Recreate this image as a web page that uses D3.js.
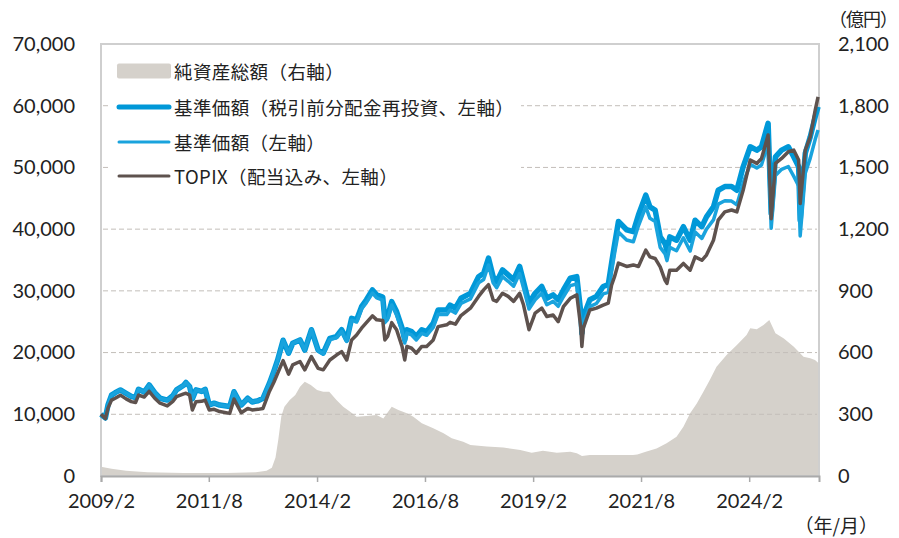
<!DOCTYPE html>
<html>
<head>
<meta charset="utf-8">
<script src="https://cdn.jsdelivr.net/npm/d3@7"></script>
<style>
body { margin: 0; background: #fff; }
svg { display: block; }
</style>
</head>
<body>
<div id="chart"></div>
<script>
// 基準価額・TOPIXの推移（左軸）
const dates = [
  "2009-02-01","2009-03-10","2009-04-01","2009-05-01","2009-06-01","2009-07-15","2009-09-01","2009-10-15","2009-11-20","2009-12-15",
  "2010-02-01","2010-03-15","2010-05-01","2010-06-15","2010-08-15","2010-10-01","2010-11-01","2011-01-01","2011-01-20","2011-02-20",
  "2011-03-15","2011-04-15","2011-06-01","2011-07-01","2011-08-05","2011-09-15","2011-11-01","2012-01-25","2012-03-01","2012-05-01",
  "2012-06-25","2012-08-01","2012-09-20","2012-11-01","2012-12-25","2013-02-01","2013-03-05","2013-04-20","2013-06-05","2013-07-10",
  "2013-09-10","2013-10-20","2013-12-15","2014-02-10","2014-03-25","2014-05-20","2014-07-15","2014-08-28","2014-10-10","2014-11-20",
  "2015-01-01","2015-02-12","2015-03-25","2015-05-15","2015-06-20","2015-08-10","2015-08-28","2015-09-20","2015-10-25","2015-12-05",
  "2016-01-20","2016-02-12","2016-03-01","2016-04-10","2016-05-20","2016-07-05","2016-08-15","2016-10-10","2016-11-20","2017-02-01",
  "2017-03-01","2017-04-15","2017-06-01","2017-08-20","2017-10-28","2017-12-10","2018-01-20","2018-02-28","2018-03-30","2018-05-18",
  "2018-07-05","2018-08-20","2018-10-10","2018-11-12","2018-12-28","2019-02-18","2019-04-15","2019-05-28","2019-07-20","2019-09-01",
  "2019-10-15","2019-12-12","2020-02-05","2020-03-10","2020-03-19","2020-04-01","2020-05-25","2020-07-20","2020-09-15","2020-10-28",
  "2020-11-25","2020-12-20","2021-01-22","2021-04-01","2021-05-28","2021-07-10","2021-09-10","2021-10-15","2021-11-28","2022-01-10",
  "2022-02-20","2022-03-08","2022-04-01","2022-05-28","2022-07-25","2022-09-20","2022-11-01","2022-12-28","2023-02-05","2023-04-05",
  "2023-05-15","2023-07-10","2023-09-05","2023-10-20","2023-12-12","2024-02-10","2024-04-05","2024-05-15","2024-07-10","2024-08-05",
  "2024-09-10","2024-11-01","2024-12-28","2025-02-12","2025-03-25","2025-04-07","2025-05-20","2025-07-01","2025-08-12","2025-09-05"
];
// 基準価額（税引前分配金再投資）
const navReinvest = [
  10000,9400,11500,13100,13500,13950,13400,12900,12700,14050,
  13600,14750,13500,12600,12300,13000,13950,14700,15150,14500,
  12500,13950,13700,14050,11500,11800,11500,11250,13650,11500,
  12600,12000,12200,12600,15000,17000,18800,22000,19900,21500,
  22050,20400,23700,20400,19900,22300,22600,23700,22050,25550,
  25300,27450,28550,30150,29350,29000,25300,25800,28250,26650,
  24000,22050,23700,23400,22600,23700,23400,24750,26900,26900,
  27700,27200,28800,29600,32300,32850,35300,32300,31500,33400,
  32600,31800,33950,31500,28000,29600,30700,28800,29350,28550,
  30150,32050,32300,26500,23150,25850,28550,29100,30700,31000,
  34500,37500,41250,39900,39600,42300,45500,43600,43100,38750,
  37650,36500,38750,38200,40400,38200,41450,40400,42000,43600,
  46300,46900,46900,46300,50100,53350,52800,53350,57150,42550,
  51700,52800,53350,51700,50100,41450,52300,54950,58200,59850
];
// 基準価額
const nav = [
  10000,9400,11500,13100,13500,13950,13400,12900,12700,14050,
  13600,14750,13500,12600,12300,13000,13950,14700,15150,14500,
  12500,13950,13700,14050,11500,11800,11500,11250,13650,11500,
  12600,12000,12200,12600,15000,17000,18800,22000,19900,21500,
  22050,20400,23700,20300,19800,22100,22400,23450,21800,25250,
  24950,27050,28100,29650,28850,28500,24850,25350,27700,26100,
  23500,21550,23150,22850,22050,23100,22800,24100,26200,26150,
  26900,26400,27950,28700,31300,31850,34200,31300,30500,32300,
  31550,30750,32800,30450,27050,28550,29600,27750,28300,27500,
  29050,30850,31100,25500,22250,24850,27450,27950,29500,29750,
  33100,36000,39550,38250,37950,40550,43600,41750,41250,37050,
  36000,34900,37050,36500,38600,36450,39550,38500,40000,41500,
  44050,44600,44550,43950,47500,50500,49900,50400,53900,40150,
  48700,49700,50150,48550,47000,38900,49050,51500,54550,56050
];
// TOPIX（配当込み）
const topix = [
  10000,9300,11000,12300,12600,13100,12500,12050,11900,13100,
  12800,13700,12600,11800,11350,12100,12850,13300,13400,13100,
  10700,12050,12100,12300,10700,10800,10450,10150,12450,10250,
  10950,10700,10800,10950,13700,15200,16650,18700,16500,18000,
  18550,17200,19350,17450,17200,18800,19600,20150,18800,22050,
  22850,23950,24850,25950,25300,25200,22050,22600,24850,23700,
  21000,18800,21000,20700,19900,21000,21000,22050,24200,24500,
  24900,24600,26000,27200,29100,30150,31000,28550,28300,29600,
  29100,28300,29600,27700,23700,26400,27200,25850,26100,25000,
  27450,28800,29350,24000,21000,24000,26900,27200,27700,28000,
  30900,32300,34500,33950,34200,33950,36600,35500,35250,33900,
  31700,31200,33350,33350,34450,33350,35500,34950,35800,38200,
  41450,42800,43100,42800,46300,51200,50650,51450,55250,41700,
  50650,51450,52550,52800,51200,44150,52800,54950,59300,61450
];

// 純資産総額（右軸、億円）
const assetDates = [
  "2009-02-01","2009-05-01","2009-09-01","2010-03-01","2011-01-01","2012-01-01","2012-09-01","2012-12-01","2013-01-15","2013-02-15",
  "2013-03-10","2013-04-05","2013-05-01","2013-06-15","2013-08-01","2013-09-10","2013-10-20","2013-12-10","2014-02-01","2014-03-25",
  "2014-05-15","2014-07-15","2014-09-10","2014-11-05","2015-01-01","2015-03-25","2015-06-20","2015-08-15","2015-10-25","2015-12-20",
  "2016-03-01","2016-04-25","2016-07-05","2016-10-10","2017-01-05","2017-03-15","2017-06-20","2017-08-20","2018-01-05","2018-05-25",
  "2018-10-15","2019-01-20","2019-04-25","2019-08-20","2019-12-12","2020-02-05","2020-03-20","2020-05-25","2020-10-15","2021-05-25",
  "2021-07-01","2021-09-10","2021-12-10","2022-03-05","2022-05-28","2022-07-25","2022-09-20","2022-11-15","2023-01-10","2023-03-05",
  "2023-05-01","2023-07-25","2023-10-20","2024-01-10","2024-02-10","2024-04-05","2024-06-01","2024-07-20","2024-09-10","2024-11-20",
  "2025-02-12","2025-05-05","2025-07-01","2025-08-10","2025-09-10"
];
const assets = [
  45,35,25,18,15,14,18,25,40,90,
  175,290,337,369,394,434,458,442,418,410,
  410,369,337,313,288,292,296,280,337,321,
  305,288,256,232,208,183,167,151,143,139,
  126,113,123,113,118,110,97,102,102,102,
  105,118,134,159,191,240,305,353,410,467,
  531,588,637,685,718,713,734,758,694,669,
  628,580,572,564,548
];

const xTickDates = ["2009-02-01","2011-08-01","2014-02-01","2016-08-01","2019-02-01","2021-08-01","2024-02-01"];
const xTickLabels = ["2009/2","2011/8","2014/2","2016/8","2019/2","2021/8","2024/2"];
const leftTicks = [0,10000,20000,30000,40000,50000,60000,70000];
const rightTicks = [0,300,600,900,1200,1500,1800,2100];
const legendLabels = [
  "純資産総額（右軸）",
  "基準価額（税引前分配金再投資、左軸）",
  "基準価額（左軸）",
  "TOPIX（配当込み、左軸）"
];

const parse = d3.timeParse("%Y-%m-%d");
const colBlue = "#0098d8";
const colBlue2 = "#19a3dd";
const colBrown = "#5e524e";
const colArea = "#d5d1cb";
const numFont = "Lato, 'Noto Sans CJK JP', sans-serif";
const jpFont = "'Noto Sans CJK JP', sans-serif";

const margin = {top: 44, right: 80, bottom: 62, left: 101};
const width = 899 - margin.left - margin.right;
const height = 538 - margin.top - margin.bottom;

const svg = d3.select("#chart")
    .append("svg")
    .attr("width", width + margin.left + margin.right)
    .attr("height", height + margin.top + margin.bottom)
    .append("g")
    .attr("transform", `translate(${margin.left},${margin.top})`);

const x = d3.scaleTime()
    .domain([parse("2009-02-01"), parse("2025-09-13")])
    .range([0, width]);
const y = d3.scaleLinear().domain([0, 70000]).range([height, 0]);
const y2 = d3.scaleLinear().domain([0, 2100]).range([height, 0]);

const lineData = dates.map((d, i) => ({
    date: parse(d), a: navReinvest[i], b: nav[i], t: topix[i]
}));
const areaData = assetDates.map((d, i) => ({date: parse(d), v: assets[i]}));

// 純資産総額
svg.append("path")
    .datum(areaData)
    .attr("fill", colArea)
    .attr("d", d3.area().x(d => x(d.date)).y0(height).y1(d => y2(d.v)));

// グリッド線
svg.selectAll(".grid")
    .data(leftTicks.filter(d => d > 0 && d < 70000))
    .enter()
    .append("line")
    .attr("x1", 2).attr("x2", width - 2)
    .attr("y1", d => y(d)).attr("y2", d => y(d))
    .attr("stroke", "#c3beb9")
    .attr("stroke-width", 1)
    .attr("stroke-dasharray", "5,3");

// 枠
svg.append("rect")
    .attr("width", width).attr("height", height)
    .attr("fill", "none")
    .attr("stroke", "#cfcfcf")
    .attr("stroke-width", 2);

const lines = [
    {key: "a", color: colBlue, w: 5.5},
    {key: "b", color: colBlue2, w: 3.5},
    {key: "t", color: colBrown, w: 3.5}
];
lines.forEach(l => {
    svg.append("path")
        .datum(lineData)
        .attr("fill", "none")
        .attr("stroke", l.color)
        .attr("stroke-width", l.w)
        .attr("stroke-linejoin", "round")
        .attr("d", d3.line().x(d => x(d.date)).y(d => y(d[l.key])));
});

// x軸
const xAxis = svg.append("g")
    .attr("transform", `translate(0,${height})`)
    .call(d3.axisBottom(x)
        .tickValues(xTickDates.map(parse))
        .tickFormat((d, i) => xTickLabels[i])
        .tickSize(6)
        .tickPadding(12));
xAxis.select(".domain").attr("stroke", "#aaa").attr("stroke-width", 2);
xAxis.selectAll(".tick line").attr("stroke", "#aaa").attr("stroke-width", 1.5);
xAxis.selectAll("text")
    .style("font-family", numFont)
    .style("font-size", "20px")
    .attr("fill", "#222");

// 左軸
const yAxis = svg.append("g")
    .call(d3.axisLeft(y).tickValues(leftTicks).tickFormat(d3.format(",")).tickSize(0).tickPadding(26));
yAxis.select(".domain").remove();
yAxis.selectAll("text")
    .style("font-family", numFont)
    .style("font-size", "20px")
    .attr("fill", "#222");

// 右軸
const y2Axis = svg.append("g")
    .attr("transform", `translate(${width},0)`)
    .call(d3.axisRight(y2).tickValues(rightTicks).tickFormat(d3.format(",")).tickSize(0).tickPadding(19));
y2Axis.select(".domain").remove();
y2Axis.selectAll("text")
    .style("font-family", numFont)
    .style("font-size", "20px")
    .attr("fill", "#222");

svg.append("text")
    .attr("x", width + 10)
    .attr("y", -26)
    .attr("dominant-baseline", "central")
    .style("font-family", jpFont)
    .style("font-size", "18px")
    .style("letter-spacing", "-1px")
    .attr("fill", "#222")
    .text("（億円）");

svg.append("text")
    .attr("x", width + 59)
    .attr("y", height + 48)
    .attr("text-anchor", "end")
    .attr("dominant-baseline", "central")
    .style("font-family", jpFont)
    .style("font-size", "19px")
    .attr("fill", "#222")
    .text("（年/月）");

// 凡例
const legend = svg.append("g").attr("transform", "translate(10,4)");
legend.append("rect")
    .attr("width", 410).attr("height", 140)
    .attr("fill", "#fff");

const rowY = [23, 59, 94, 128];
legend.append("rect")
    .attr("x", 6).attr("y", rowY[0] - 7.5)
    .attr("width", 54).attr("height", 15)
    .attr("rx", 2)
    .attr("fill", colArea);
[{c: colBlue, w: 5}, {c: colBlue2, w: 3}, {c: colBrown, w: 3}].forEach((s, i) => {
    legend.append("line")
        .attr("x1", 8).attr("x2", 58)
        .attr("y1", rowY[i + 1]).attr("y2", rowY[i + 1])
        .attr("stroke", s.c)
        .attr("stroke-width", s.w)
        .attr("stroke-linecap", "round");
});
legend.selectAll(".lg-text")
    .data(legendLabels)
    .enter()
    .append("text")
    .attr("x", 63)
    .attr("y", (d, i) => rowY[i])
    .attr("dominant-baseline", "central")
    .style("font-family", jpFont)
    .style("font-size", "18.5px")
    .style("letter-spacing", "0.4px")
    .attr("fill", "#222")
    .text(d => d);
</script>
</body>
</html>
